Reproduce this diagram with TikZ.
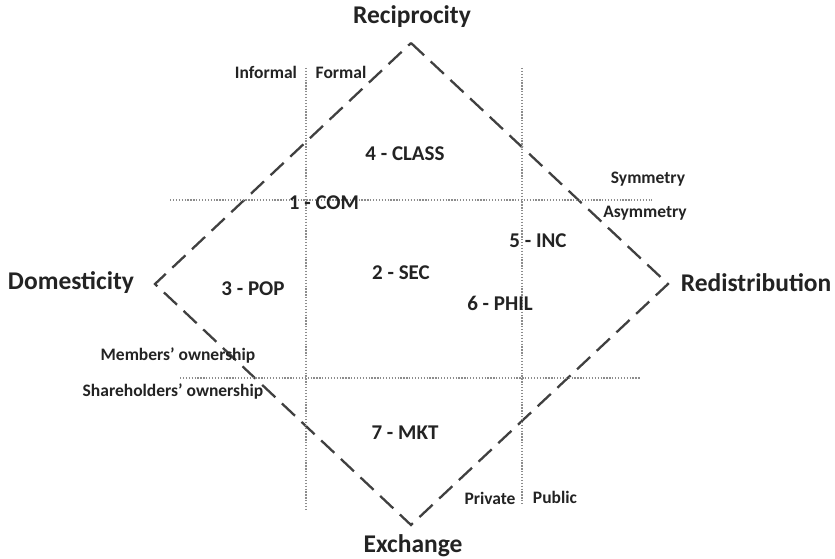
\documentclass[tikz,border=0pt]{standalone}
\usepackage{fontspec}
\setmainfont{Carlito}
\usetikzlibrary{calc}

\definecolor{dashgray}{RGB}{64,64,64}
\definecolor{dotgray}{RGB}{140,140,140}
\definecolor{textgray}{RGB}{35,35,35}

\tikzset{
	pole/.style={font=\bfseries\fontsize{25.5}{30}\selectfont, text=textgray, inner sep=0pt},
	sector/.style={font=\bfseries\fontsize{21}{24}\selectfont, text=textgray, inner sep=0pt},
	side/.style={font=\bfseries\fontsize{17.5}{20}\selectfont, text=textgray, inner sep=0pt},
	diamondline/.style={dashgray, line width=2.3pt, dash pattern=on 18pt off 9pt},
	splitline/.style={dotgray, line width=1.3pt, dash pattern=on 1.3pt off 1.6pt}
}

\begin{document}
\begin{tikzpicture}[x=1pt, y=-1pt]
	\useasboundingbox (0,0) rectangle (835,559);

	% the four poles
	\coordinate (top) at (411,43);
	\coordinate (right) at (668,284);
	\coordinate (bottom) at (411,525);
	\coordinate (left) at (155,284);
	\draw[diamondline] (top) -- (right) -- (bottom) -- (left) -- cycle;

	\node[pole] (recip) at (412,17) {Reciprocity};
	\node[pole] (exch) at (413,546) {Exchange};
	\node[pole] (dom) at (71,283) {Domesticity};
	\node[pole] (redis) at (756,283) {Redistribution};

	% dotted splits
	\coordinate (fa) at (306,68);
	\coordinate (fb) at (306,510);
	\coordinate (pa) at (522,68);
	\coordinate (pb) at (522,505);
	\coordinate (sa) at (170,200);
	\coordinate (sb) at (652,200);
	\coordinate (oa) at (180,378);
	\coordinate (ob) at (640,378);
	\draw[splitline] (fa) -- (fb);
	\draw[splitline] (pa) -- (pb);
	\draw[splitline] (sa) -- (sb);
	\draw[splitline] (oa) -- (ob);

	\node[side] (informal) at (266,72) {Informal};
	\node[side] (formal) at (341,72) {Formal};
	\node[side] (sym) at (648,179) {Symmetry};
	\node[side] (asym) at (645,213) {Asymmetry};
	\node[side] (members) at (178,356) {Members’ ownership};
	\node[side] (share) at (173,392) {Shareholders’ ownership};
	\node[side] (private) at (490,498) {Private};
	\node[side] (public) at (555,497) {Public};

	% organisation types
	\node[sector] (class) at (405,154) {4 - CLASS};
	\node[sector] (com) at (324,203) {1 - COM};
	\node[sector] (inc) at (538,241) {5 - INC};
	\node[sector] (sec) at (401,273) {2 - SEC};
	\node[sector] (pop) at (253,289) {3 - POP};
	\node[sector] (phil) at (500,303) {6 - PHIL};
	\node[sector] (mkt) at (405,433) {7 - MKT};
\end{tikzpicture}
\end{document}
